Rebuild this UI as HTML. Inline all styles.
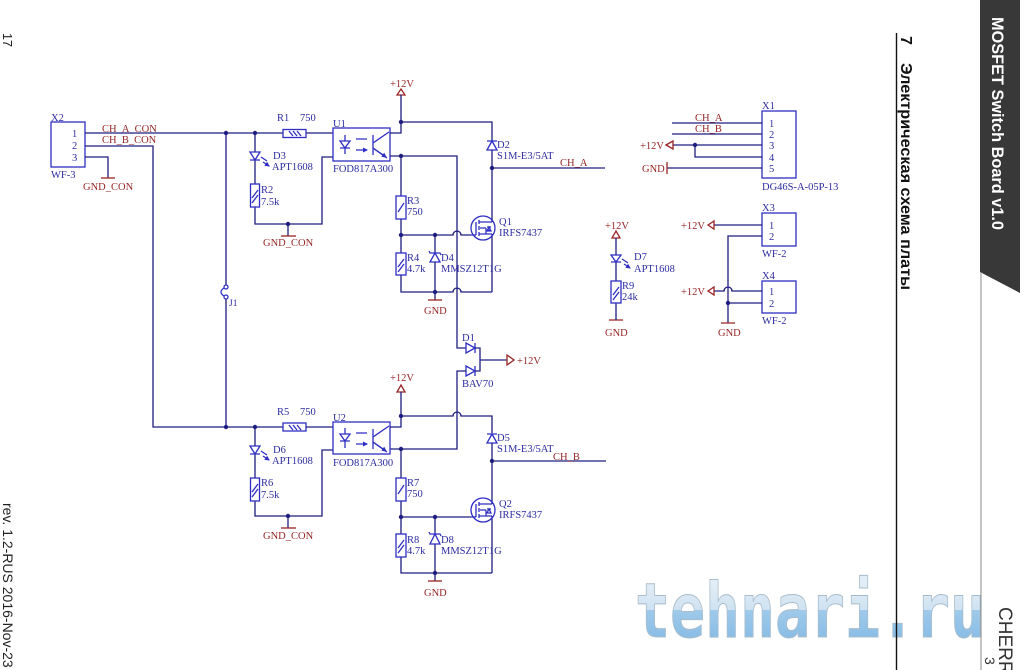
<!DOCTYPE html>
<html><head><meta charset="utf-8"><style>
html,body{margin:0;padding:0;background:#fff;}
svg{display:block;}
.w{stroke:#1e1e80;stroke-width:1.3;fill:none;}
.c{stroke:#2e2ec4;stroke-width:1.3;fill:none;}
.r{stroke:#9a2424;stroke-width:1.3;fill:none;}
.t{font-family:"Liberation Serif",serif;font-size:10.5px;fill:#2c2ca0;}
.n{font-family:"Liberation Serif",serif;font-size:10.5px;fill:#962626;}
.d{fill:#1e1e80;}
</style></head><body>
<svg width="1035" height="670" viewBox="0 0 1035 670" xmlns="http://www.w3.org/2000/svg">
<defs>
<marker id="ah" markerWidth="5" markerHeight="5" refX="4" refY="2.5" orient="auto" markerUnits="userSpaceOnUse"><path d="M0,0L5,2.5L0,5Z" fill="#2e2ec4"/></marker>
<linearGradient id="wm" gradientUnits="userSpaceOnUse" x1="0" y1="582" x2="0" y2="638">
<stop offset="0" stop-color="#e2eef7"/><stop offset="0.5" stop-color="#cfe2f1"/>
<stop offset="0.5" stop-color="#9fcaea"/><stop offset="1" stop-color="#89bde6"/>
</linearGradient>
</defs>

<!-- watermark -->
<text x="635" y="637" font-family="DejaVu Sans Mono" font-weight="bold" font-size="76" textLength="350" lengthAdjust="spacingAndGlyphs" fill="url(#wm)" stroke="#a9bccb" stroke-width="1">tehnari.ru</text>

<!-- right decorations -->
<polygon points="980,0 1020,0 1020,293 980,272" fill="#383838"/>
<line x1="981" y1="272" x2="981" y2="670" stroke="#888" stroke-width="1"/>
<line x1="896.5" y1="33" x2="896.5" y2="670" stroke="#111" stroke-width="1.4"/>
<text transform="translate(992,17) rotate(90)" font-family="Liberation Sans, sans-serif" font-weight="bold" font-size="17" fill="#fff" textLength="213" lengthAdjust="spacingAndGlyphs">MOSFET Switch Board v1.0</text>
<text transform="translate(901,36) rotate(90)" font-family="Liberation Sans, sans-serif" font-weight="bold" font-size="16" fill="#111">7</text>
<text transform="translate(901,63) rotate(90)" font-family="Liberation Sans, sans-serif" font-weight="bold" font-size="16" fill="#111" textLength="227" lengthAdjust="spacingAndGlyphs">Электрическая схема платы</text>
<text transform="translate(999,607) rotate(90)" font-family="Liberation Sans, sans-serif" font-size="19" fill="#333">CHERRY</text>
<text transform="translate(985,657) rotate(90)" font-family="Liberation Sans, sans-serif" font-size="14" fill="#333">3</text>

<!-- left page marks -->
<text transform="translate(3,33) rotate(90)" font-family="Liberation Sans, sans-serif" font-size="12.5" fill="#222">17</text>
<text transform="translate(3,503) rotate(90)" font-family="Liberation Sans, sans-serif" font-size="14" fill="#222">rev. 1.2-RUS 2016-Nov-23</text>

<!-- ===== X2 connector ===== -->
<rect class="c" x="51" y="122" width="34" height="45"/>
<text class="t" x="51" y="121">X2</text>
<text class="t" x="51" y="178">WF-3</text>
<text class="t" x="72" y="137">1</text>
<text class="t" x="72" y="149">2</text>
<text class="t" x="72" y="161">3</text>
<text class="n" x="102" y="132">CH_A_CON</text>
<text class="n" x="102" y="143">CH_B_CON</text>
<text class="n" x="83" y="190">GND_CON</text>
<path class="w" d="M85,133H283 M306,133H333 M85,146H153V427H283 M306,427H333 M85,157H108V178"/>
<path class="r" d="M101,178H115"/>

<!-- J1 -->
<path class="w" d="M226,133V285 M226,299V427"/>
<circle class="c" cx="226" cy="287" r="2"/>
<circle class="c" cx="226" cy="297" r="2"/>
<path class="c" d="M224,288Q218,292 224,296"/>
<text class="t" x="229" y="306" style="font-size:9.5px">J1</text>

<!-- ===== top input ===== -->
<rect class="c" x="283" y="129.5" width="23" height="8"/>
<path class="c" d="M289,131L293,136 M293,131L297,136 M297,131L301,136"/>
<text class="t" x="277" y="121">R1</text><text class="t" x="300" y="121">750</text>
<path class="w" d="M255,133V152 M255,160V184 M255,207V224H322V157H333 M288,224V236"/>
<path class="c" d="M250,152H260L255,160Z M250,160H260"/>
<path class="c" d="M261,157L267,161 M263,162L269,166" marker-end="url(#ah)"/>
<text class="t" x="273" y="159">D3</text><text class="t" x="272" y="170">APT1608</text>
<rect class="c" x="250.5" y="184" width="9" height="23"/>
<path class="c" d="M252,198L258,190 M252,203L258,195"/>
<text class="t" x="261" y="193">R2</text><text class="t" x="261" y="205">7.5k</text>
<path class="r" d="M281,236H296"/>
<text class="n" x="263" y="246">GND_CON</text>

<!-- U1 -->
<rect class="c" x="333" y="128" width="57" height="33"/>
<text class="t" x="333" y="127">U1</text>
<text class="t" x="333" y="172">FOD817A300</text>
<path class="c" d="M340,141H350L345,148Z M340,148H350 M345,135V141 M345,148V154"/>
<path class="c" d="M356,139H367 M356,150H367" marker-end="url(#ah)"/>
<path class="c" d="M373,135V155 M373,143L389,132 M373,148L387,158" />
<path class="c" d="M373,148L386,157" marker-end="url(#ah)"/>

<!-- +12V top -->
<text class="n" x="390" y="87">+12V</text>
<path class="r" d="M401,89L405,95H397Z"/>
<path class="w" d="M401,95V133H390 M401,122H492V141"/>
<circle class="d" cx="401" cy="122" r="2.2"/>

<!-- D2 -->
<path class="c" d="M487,150H497L492,141Z M487,141H497"/>
<text class="t" x="497" y="148">D2</text><text class="t" x="497" y="159">S1M-E3/5AT</text>
<path class="w" d="M492,150V222 M492,168H605 M492,234V292"/>
<circle class="d" cx="492" cy="168" r="2.2"/>
<text class="n" x="560" y="166">CH_A</text>

<!-- emitter / R3 R4 D4 -->
<path class="w" d="M390,156H457V348H466 M401,156V196 M401,219V253 M401,275V292H453A4,4 0 0 1 461,292H492 M401,235H453A4,4 0 0 1 461,235H471 M435,235V253 M435,262V292 M435,292V300"/>
<circle class="d" cx="401" cy="156" r="2.2"/>
<circle class="d" cx="401" cy="235" r="2.2"/>
<circle class="d" cx="435" cy="235" r="2.2"/>
<circle class="d" cx="435" cy="292" r="2.2"/>
<rect class="c" x="396" y="196" width="10" height="23"/>
<path class="c" d="M398,212L404,203"/>
<text class="t" x="407" y="204">R3</text><text class="t" x="407" y="215">750</text>
<rect class="c" x="396" y="253" width="10" height="22"/>
<path class="c" d="M398,267L404,259 M398,272L404,264"/>
<text class="t" x="407" y="261">R4</text><text class="t" x="407" y="272">4.7k</text>
<path class="c" d="M430,262H440L435,253Z M429,251L430,253H440L441,255"/>
<text class="t" x="441" y="261">D4</text><text class="t" x="441" y="272">MMSZ12T1G</text>
<path class="r" d="M428,300H442"/>
<text class="n" x="424" y="314">GND</text>

<!-- Q1 -->
<circle class="c" cx="483" cy="228" r="12"/>
<path class="c" d="M471,235H476 M476,222V235 M479,220V224 M479,226V230 M479,232V236 M479,222H492 M479,234H492 M486,228V234 M488,230H490 M486,228H480"/>
<path class="c" d="M487,231H491L489,227Z M487,227H491"/>
<text class="t" x="499" y="225">Q1</text><text class="t" x="499" y="236">IRFS7437</text>

<!-- D1 BAV70 -->
<path class="c" d="M466,343V353L475,348Z M475,343V353 M466,366V376L475,371Z M475,366V376"/>
<path class="w" d="M475,348H480V371H475 M466,371H457V449H390 M480,360H507"/>
<path class="r" d="M507,355V365L514,360Z"/>
<text class="n" x="517" y="364">+12V</text>
<text class="t" x="462" y="341">D1</text><text class="t" x="462" y="387">BAV70</text>

<!-- ===== bottom input ===== -->
<circle class="d" cx="226" cy="133" r="2.2"/>
<circle class="d" cx="255" cy="133" r="2.2"/>
<circle class="d" cx="288" cy="224" r="2.2"/>
<circle class="d" cx="226" cy="427" r="2.2"/>
<circle class="d" cx="255" cy="427" r="2.2"/>
<circle class="d" cx="288" cy="516" r="2.2"/>
<rect class="c" x="283" y="423" width="23" height="8"/>
<path class="c" d="M289,425L293,430 M293,425L297,430 M297,425L301,430"/>
<text class="t" x="277" y="415">R5</text><text class="t" x="300" y="415">750</text>
<path class="w" d="M255,427V446 M255,454V478 M255,501V516H322V450H333 M288,516V528"/>
<path class="c" d="M250,446H260L255,454Z M250,454H260"/>
<path class="c" d="M261,451L267,455 M263,456L269,460" marker-end="url(#ah)"/>
<text class="t" x="273" y="453">D6</text><text class="t" x="272" y="464">APT1608</text>
<rect class="c" x="250.5" y="478" width="9" height="23"/>
<path class="c" d="M252,492L258,484 M252,497L258,489"/>
<text class="t" x="261" y="486">R6</text><text class="t" x="261" y="498">7.5k</text>
<path class="r" d="M281,528H296"/>
<text class="n" x="263" y="539">GND_CON</text>

<!-- U2 -->
<rect class="c" x="333" y="422" width="57" height="32"/>
<text class="t" x="333" y="421">U2</text>
<text class="t" x="333" y="466">FOD817A300</text>
<path class="c" d="M340,434H350L345,441Z M340,441H350 M345,428V434 M345,441V448"/>
<path class="c" d="M356,433H367 M356,444H367" marker-end="url(#ah)"/>
<path class="c" d="M373,429V449 M373,437L389,426 M373,442L387,452"/>
<path class="c" d="M373,442L386,451" marker-end="url(#ah)"/>

<!-- +12V bottom -->
<text class="n" x="390" y="381">+12V</text>
<path class="r" d="M401,385L405,392H397Z"/>
<path class="w" d="M401,392V427H390 M401,416H453A4,4 0 0 1 461,416H492V433"/>
<circle class="d" cx="401" cy="416" r="2.2"/>

<!-- D5 -->
<path class="c" d="M487,443H497L492,434Z M487,434H497"/>
<text class="t" x="497" y="441">D5</text><text class="t" x="497" y="452">S1M-E3/5AT</text>
<path class="w" d="M492,443V504 M492,461H606 M492,516V573"/>
<circle class="d" cx="492" cy="461" r="2.2"/>
<text class="n" x="553" y="460">CH_B</text>

<!-- R7 R8 D8 -->
<path class="w" d="M401,449V478 M401,501V534 M401,557V573H492 M401,517H471 M435,517V534 M435,544V573 M435,573V581"/>
<circle class="d" cx="401" cy="449" r="2.2"/>
<circle class="d" cx="401" cy="517" r="2.2"/>
<circle class="d" cx="435" cy="517" r="2.2"/>
<circle class="d" cx="435" cy="573" r="2.2"/>
<rect class="c" x="396" y="478" width="10" height="23"/>
<path class="c" d="M398,494L404,485"/>
<text class="t" x="407" y="486">R7</text><text class="t" x="407" y="497">750</text>
<rect class="c" x="396" y="534" width="10" height="23"/>
<path class="c" d="M398,548L404,540 M398,553L404,545"/>
<text class="t" x="407" y="543">R8</text><text class="t" x="407" y="554">4.7k</text>
<path class="c" d="M430,544H440L435,534Z M429,532L430,534H440L441,536"/>
<text class="t" x="441" y="543">D8</text><text class="t" x="441" y="554">MMSZ12T1G</text>
<path class="r" d="M428,581H442"/>
<text class="n" x="424" y="596">GND</text>

<!-- Q2 -->
<circle class="c" cx="483" cy="510" r="12"/>
<path class="c" d="M471,517H476 M476,504V517 M479,502V506 M479,508V512 M479,514V518 M479,504H492 M479,516H492 M486,510V516 M486,510H480"/>
<path class="c" d="M487,513H491L489,509Z M487,509H491"/>
<text class="t" x="499" y="507">Q2</text><text class="t" x="499" y="518">IRFS7437</text>

<!-- ===== X1 ===== -->
<rect class="c" x="762" y="111" width="34" height="67"/>
<text class="t" x="762" y="109">X1</text>
<text class="t" x="769" y="127">1</text><text class="t" x="769" y="138">2</text>
<text class="t" x="769" y="149">3</text><text class="t" x="769" y="161">4</text>
<text class="t" x="769" y="172">5</text>
<text class="t" x="762" y="190">DG46S-A-05P-13</text>
<path class="w" d="M672,123H762 M672,134H762 M673,145H762 M695,145V157H762 M667,168H762"/>
<circle class="d" cx="695" cy="145" r="2.2"/>
<text class="n" x="695" y="121">CH_A</text>
<text class="n" x="695" y="132">CH_B</text>
<path class="r" d="M666,145L673,141V149Z"/>
<text class="n" x="640" y="149">+12V</text>
<path class="r" d="M667,162V174"/>
<text class="n" x="642" y="172">GND</text>

<!-- X3 / X4 -->
<rect class="c" x="762" y="213" width="34" height="33"/>
<text class="t" x="762" y="211">X3</text>
<text class="t" x="769" y="229">1</text><text class="t" x="769" y="240">2</text>
<text class="t" x="762" y="257">WF-2</text>
<rect class="c" x="762" y="281" width="34" height="32"/>
<text class="t" x="762" y="279">X4</text>
<text class="t" x="769" y="295">1</text><text class="t" x="769" y="307">2</text>
<text class="t" x="762" y="324">WF-2</text>
<path class="w" d="M714,225H762 M762,236H728V323 M714,291H724A4,4 0 0 1 732,291H762 M728,303H762"/>
<circle class="d" cx="728" cy="303" r="2.2"/>
<path class="r" d="M708,225L714,221V229Z M708,291L714,287V295Z M721,323H735"/>
<text class="n" x="681" y="229">+12V</text>
<text class="n" x="681" y="295">+12V</text>
<text class="n" x="718" y="336">GND</text>

<!-- D7 / R9 -->
<text class="n" x="605" y="229">+12V</text>
<path class="r" d="M616,231L620,238H612Z M609,320H623"/>
<path class="w" d="M616,238V255 M616,262V281 M616,303V320"/>
<path class="c" d="M611,255H621L616,262Z M611,262H621"/>
<path class="c" d="M622,259L628,263 M624,264L630,268" marker-end="url(#ah)"/>
<text class="t" x="634" y="260">D7</text><text class="t" x="634" y="272">APT1608</text>
<rect class="c" x="611" y="281" width="10" height="22"/>
<path class="c" d="M613,295L619,287 M613,300L619,292"/>
<text class="t" x="622" y="289">R9</text><text class="t" x="622" y="300">24k</text>
<text class="n" x="605" y="336">GND</text>
</svg>
</body></html>
